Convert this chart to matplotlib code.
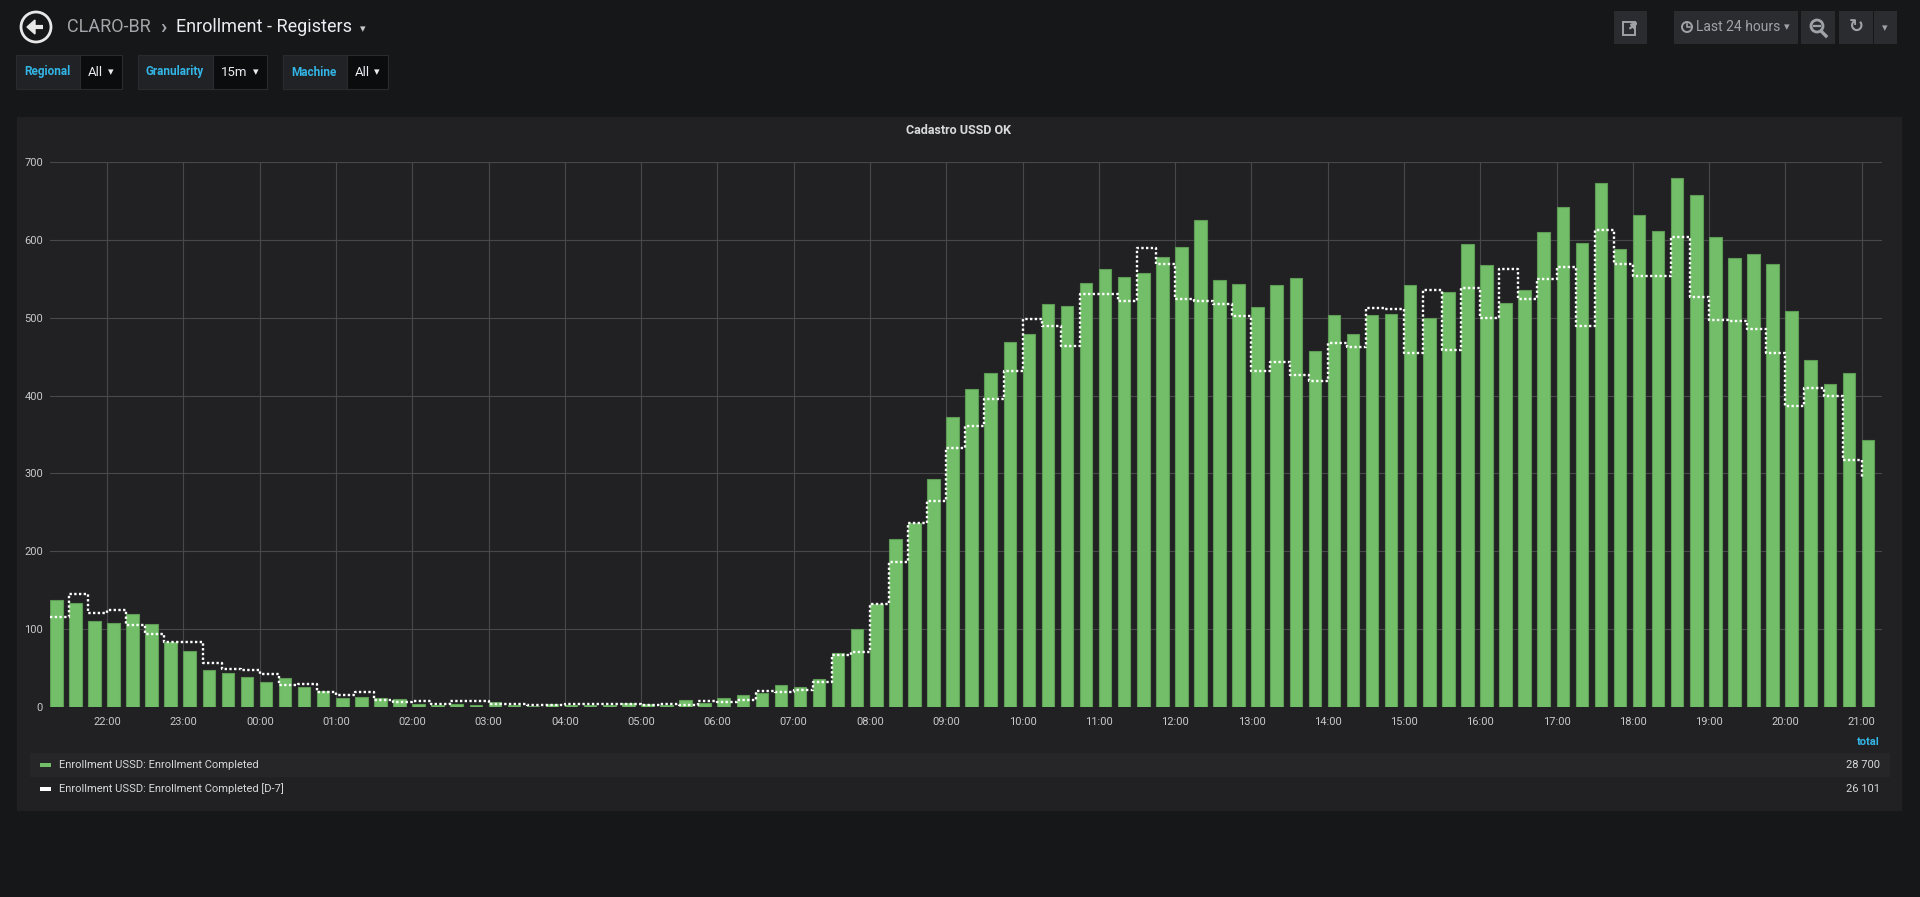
import matplotlib
matplotlib.use("Agg")
import matplotlib.pyplot as plt
import matplotlib.dates as mdates
import matplotlib.patches as mpatches
import numpy as np
import pandas as pd

plt.rcParams['font.family'] = ['Roboto', 'DejaVu Sans']

# data: 15 min buckets, last 24 hours
start = "2019-05-20 21:15"
times = pd.date_range(start, periods=96, freq="15min")

completed = [137, 133, 110, 108, 119, 106, 83, 72, 48, 44, 39, 32,
             37, 26, 20, 12, 13, 11, 10, 4, 3, 4, 3, 7,
             2, 1, 4, 2, 3, 3, 5, 4, 3, 9, 5, 11,
             16, 18, 28, 26, 36, 70, 100, 132, 216, 236, 293, 373,
             409, 429, 469, 479, 518, 515, 545, 563, 552, 557, 578, 591,
             625, 548, 543, 514, 542, 551, 457, 503, 479, 503, 505, 542,
             500, 533, 595, 568, 519, 535, 610, 642, 596, 673, 588, 632,
             611, 680, 658, 604, 577, 582, 569, 508, 446, 415, 429, 343]

completed_d7 = [116, 145, 121, 125, 105, 94, 83, 83, 57, 49, 48, 42,
                28, 29, 19, 16, 19, 9, 6, 8, 4, 8, 8, 4,
                4, 2, 2, 4, 4, 4, 4, 3, 4, 3, 8, 7,
                9, 20, 19, 22, 32, 67, 71, 132, 186, 236, 265, 333,
                361, 396, 432, 498, 490, 464, 531, 531, 522, 590, 569, 524,
                522, 517, 502, 432, 443, 426, 419, 468, 463, 512, 511, 455,
                535, 458, 538, 500, 563, 524, 550, 565, 489, 613, 569, 554,
                553, 604, 527, 497, 496, 485, 455, 386, 410, 399, 317, 296]

series_names = ["Enrollment USSD: Enrollment Completed",
                "Enrollment USSD: Enrollment Completed [D-7]"]
series_totals = ["28 700", "26 101"]
y_ticks = [0, 100, 200, 300, 400, 500, 600, 700]

W, H = 1920, 897
fig = plt.figure(figsize=(W / 100, H / 100), dpi=100)
fig.patch.set_facecolor('#161719')

# background layer in pixel coords (top-left origin)
bg = fig.add_axes([0, 0, 1, 1])
bg.set_xlim(0, W)
bg.set_ylim(H, 0)
bg.axis('off')

def box(x0, y0, x1, y1, color, **kw):
    bg.add_patch(mpatches.Rectangle((x0, y0), x1 - x0, y1 - y0, facecolor=color,
                                    edgecolor=kw.pop('ec', 'none'), lw=kw.pop('lw', 0), **kw))

# header
bg.add_patch(mpatches.Circle((36, 27), 15, facecolor='none', edgecolor='#e8e8e8', lw=2))
bg.plot([29, 43], [27, 27], color='#e8e8e8', lw=3, solid_capstyle='butt')
bg.add_patch(mpatches.Polygon([[27, 27], [35, 20], [35, 34]], closed=True, color='#e8e8e8'))
bg.text(67, 27, "CLARO-BR", color='#a3a6aa', fontsize=13, va='center', ha='left')
bg.text(160, 27, "\u203a", color='#a3a6aa', fontsize=15, va='center', ha='left', fontweight='bold')
bg.text(176, 27, "Enrollment - Registers", color='#e9edf2', fontsize=13, va='center', ha='left')
bg.text(360, 29, "\u25be", color='#c8c9ca', fontsize=8, va='center', ha='left', family='DejaVu Sans')

# template variables
variables = [("Regional", "All", 16, 80, 122),
             ("Granularity", "15m", 138, 213, 267),
             ("Machine", "All", 283, 347, 388)]
for label, value, x0, x1, x2 in variables:
    box(x0, 55, x1, 89, '#202226', ec='#2a2b2f', lw=0.8)
    box(x1, 55, x2, 89, '#0b0c0e', ec='#2a2b2f', lw=0.8)
    bg.text(x0 + 8, 72, label, color='#33b5e5', fontsize=8.5, fontweight='bold', va='center')
    bg.text(x1 + 8, 72, value, color='#e9edf2', fontsize=9.5, va='center')
    bg.text(x2 - 8, 72, "\u25be", color='#e9edf2', fontsize=8, va='center', ha='right',
            family='DejaVu Sans')

# right toolbar
box(1614, 11, 1647, 44, '#2b2c30')
bg.add_patch(mpatches.Rectangle((1623, 22), 12, 13, facecolor='none', edgecolor='#9fa3a8', lw=1.4))
bg.annotate("", xy=(1640, 20), xytext=(1628, 30),
            arrowprops=dict(arrowstyle='-|>', color='#9fa3a8', lw=1.6, mutation_scale=8))
box(1674, 11, 1798, 44, '#2b2c30')
bg.add_patch(mpatches.Circle((1687, 27), 5, facecolor='none', edgecolor='#9fa3a8', lw=1.4))
bg.plot([1687, 1687, 1690], [24, 27, 27], color='#9fa3a8', lw=1.2)
bg.text(1696, 27, "Last 24 hours", color='#9fa3a8', fontsize=10, va='center')
bg.text(1790, 27, "\u25be", color='#9fa3a8', fontsize=8, va='center', ha='right', family='DejaVu Sans')
box(1801, 11, 1835, 44, '#2b2c30')
bg.add_patch(mpatches.Circle((1817, 26), 6, facecolor='none', edgecolor='#9fa3a8', lw=2))
bg.plot([1814, 1820], [26, 26], color='#9fa3a8', lw=1.6)
bg.plot([1821, 1826], [31, 36], color='#9fa3a8', lw=2.4)
box(1839, 11, 1873, 44, '#2b2c30')
box(1874, 11, 1897, 44, '#2b2c30')
bg.text(1856, 27, "\u21bb", color='#9fa3a8', fontsize=13, va='center', ha='center',
        family='DejaVu Sans', fontweight='bold')
bg.text(1885, 28, "\u25be", color='#9fa3a8', fontsize=8, va='center', ha='center', family='DejaVu Sans')

# panel
box(17, 117, 1902, 811, '#212124')
bg.text(959, 131, "Cadastro USSD OK", color='#d8d9da', fontsize=9, fontweight='bold',
        ha='center', va='center')

# legend
box(30, 753, 1890, 777, '#262628')
legend_colors = ['#73bf69', '#ffffff']
for k, (name, total, col) in enumerate(zip(series_names, series_totals, legend_colors)):
    yc = 765 + 24 * k
    box(40, yc - 2, 51, yc + 2, col)
    bg.text(59, yc, name, color='#d8d9da', fontsize=8, va='center')
    bg.text(1880, yc, total, color='#d8d9da', fontsize=8, va='center', ha='right')
bg.text(1880, 742, "total", color='#33b5e5', fontsize=8, fontweight='bold', va='center', ha='right')

# chart
left, right, top, bottom = 50, 1882, 162, 707
ax = fig.add_axes([left / W, (H - bottom) / H, (right - left) / W, (bottom - top) / H])
ax.set_facecolor('none')

bar_w = 0.164 / 24
ax.bar(times, completed, width=bar_w, align='edge', color='#73bf69',
       edgecolor='#5e9c56', linewidth=0.8, zorder=2)
ax.step(times, completed_d7, where='post', color='white', lw=1.7,
        linestyle=(0, (1, 1)), zorder=3)

t0 = pd.Timestamp(start)
ax.set_xlim(t0, t0 + pd.Timedelta(hours=24, minutes=1))
ax.set_ylim(0, 700)
ax.set_yticks(y_ticks)
hour_ticks = pd.date_range("2019-05-20 22:00", periods=24, freq="h")
ax.set_xticks(hour_ticks)
ax.xaxis.set_major_formatter(mdates.DateFormatter('%H:%M'))

ax.grid(True, color='#48484b', lw=0.8, zorder=0)
ax.set_axisbelow(True)
for s in ax.spines.values():
    s.set_visible(False)
ax.tick_params(length=0, colors='#c8c9ca', labelsize=8)
ax.tick_params(axis='y', pad=5)
ax.tick_params(axis='x', pad=7)

fig.savefig("out.png", dpi=100, facecolor=fig.get_facecolor())
